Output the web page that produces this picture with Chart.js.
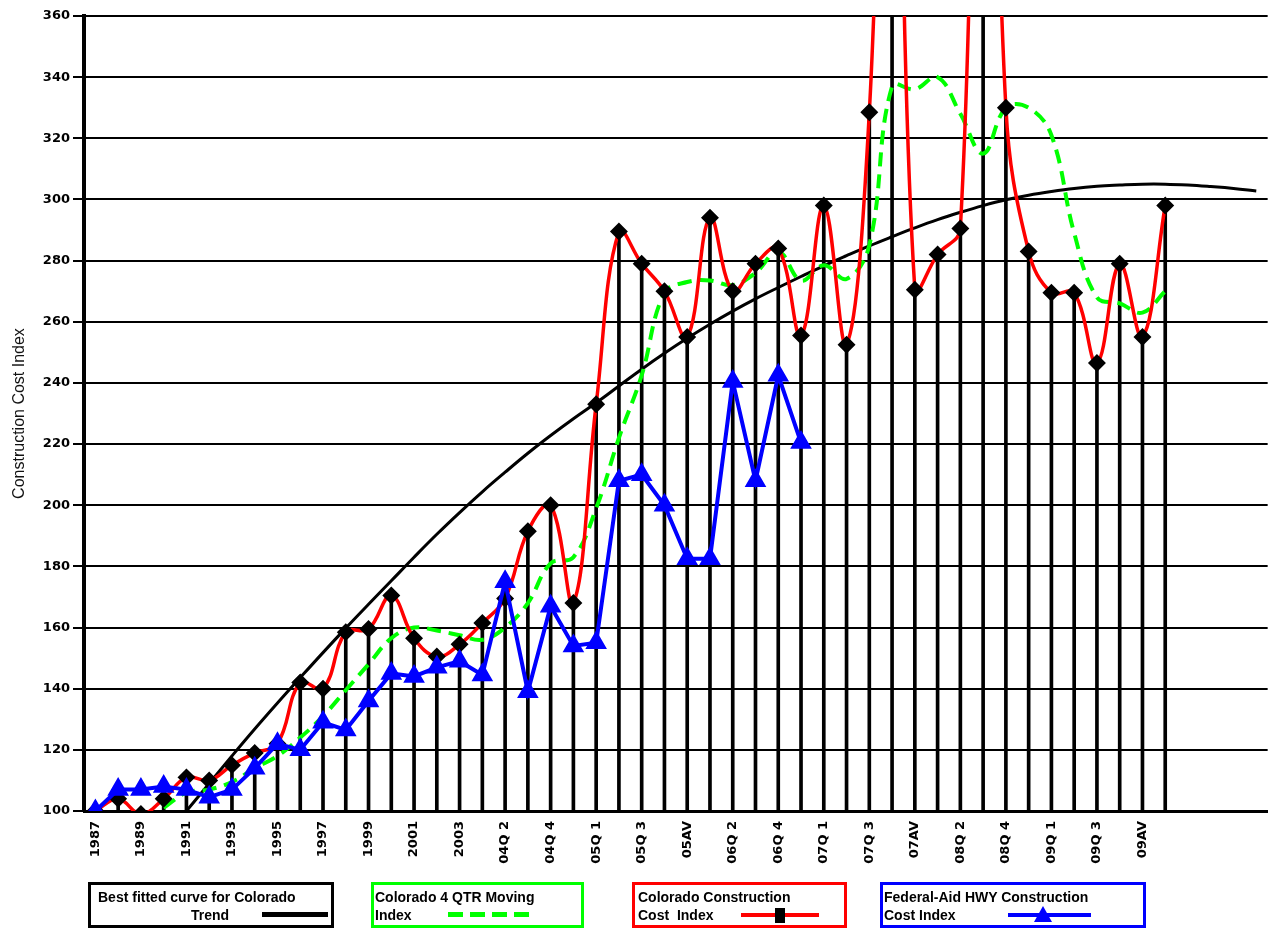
<!DOCTYPE html>
<html>
<head>
<meta charset="utf-8">
<script src="https://cdn.jsdelivr.net/npm/chart.js@4.4.0/dist/chart.umd.min.js"></script>
<style>
  body { margin: 0; background: #fff; }
  #wrap { position: relative; width: 1282px; height: 933px; }
  #chart { position: absolute; left: 0; top: 0; }
  .box { position: absolute; top: 882px; height: 46px; border: 3px solid #000; box-sizing: border-box;
         font: bold 14px "Liberation Sans", Arial, sans-serif; color: #000; }
  .box span { position: absolute; white-space: pre; line-height: 16px; }
  .sample { position: absolute; }
</style>
</head>
<body>
<div id="wrap">
  <canvas id="chart" width="1282" height="933"></canvas>

  <div class="box" style="left:88px;width:246px;border-color:#000;">
    <span style="left:7px;top:4px;">Best fitted curve for Colorado</span>
    <span style="left:100px;top:22px;">Trend</span>
    <div class="sample" style="left:171px;top:27px;width:66px;height:5px;background:#000;"></div>
  </div>
  <div class="box" style="left:371px;width:213px;border-color:#00ff00;">
    <span style="left:1px;top:4px;">Colorado 4 QTR Moving</span>
    <span style="left:1px;top:22px;">Index</span>
    <div class="sample" style="left:74px;top:27px;width:82px;height:5px;
         background:repeating-linear-gradient(90deg,#00ff00 0 15px,transparent 15px 22px);"></div>
  </div>
  <div class="box" style="left:632px;width:215px;border-color:#ff0000;">
    <span style="left:3px;top:4px;">Colorado Construction</span>
    <span style="left:3px;top:22px;">Cost  Index</span>
    <div class="sample" style="left:106px;top:28px;width:78px;height:4px;background:#ff0000;"></div>
    <div class="sample" style="left:140px;top:23px;width:10px;height:15px;background:#000;"></div>
  </div>
  <div class="box" style="left:880px;width:266px;border-color:#0000ff;">
    <span style="left:1px;top:4px;">Federal-Aid HWY Construction</span>
    <span style="left:1px;top:22px;">Cost Index</span>
    <div class="sample" style="left:125px;top:28px;width:83px;height:4px;background:#0000ff;"></div>
    <svg class="sample" style="left:150px;top:20px;" width="20" height="18">
      <polygon points="10,1 19,17 1,17" fill="#0000ff"/>
    </svg>
  </div>
</div>

<script>
const categories = [
  '1987', '1988', '1989', '1990', '1991', '1992', '1993', '1994', '1995', '1996',
  '1997', '1998', '1999', '2000', '2001', '2002', '2003',
  '04Q 1', '04Q 2', '04Q 3', '04Q 4', '04AV',
  '05Q 1', '05Q 2', '05Q 3', '05Q 4', '05AV',
  '06Q 1', '06Q 2', '06Q 3', '06Q 4', '06AV',
  '07Q 1', '07Q 2', '07Q 3', '07Q 4', '07AV',
  '08Q 1', '08Q 2', '08Q 3', '08Q 4', '08AV',
  '09Q 1', '09Q 2', '09Q 3', '09Q 4', '09AV',
  '10Q 1', '', '', '', ''
];

// Colorado Construction Cost Index (the two off-scale peaks are guesses)
const colorado = [
  100, 104, 99, 104, 111, 110, 115, 119, 122, 142,
  140, 158.5, 159.5, 170.5, 156.5, 150.5, 154.5,
  161.5, 169.5, 191.5, 200, 168,
  233, 289.5, 279, 270, 255,
  294, 270, 279, 284, 255.5,
  298, 252.5, 328.5, 520, 270.5,
  282, 290.5, 560, 330, 283,
  269.5, 269.5, 246.5, 279, 255,
  298, null, null, null, null
];

// Federal-Aid HWY Construction Cost Index
const federal = [
  100, 107, 107, 108, 107, 104.5, 107, 114, 122, 120,
  129, 126.5, 136, 145, 144, 147, 149,
  144.5, 175, 139, 167, 154,
  155, 208, 210, 200, 182.5,
  182.5, 240.5, 208, 242.5, 220.5
];

// Colorado 4 QTR Moving Index
const moving = [
  null, null, null, 101, 106, 107, 109.5, 114, 118, 124,
  131, 139.5, 148, 156.5, 160, 159, 157.5,
  156, 160, 168, 181, 183,
  199, 222, 242.5, 269.5, 273,
  273.5, 272, 276, 283, 273.5,
  278.5, 274, 285, 337, 336,
  340, 328, 315, 330, 330,
  321, 289, 268, 266, 263,
  270, null, null, null, null
];

// Best fitted curve for Colorado trend
const trend = [
  null, null, null, null, 100, 109, 118, 126.8, 135.3, 143.6,
  151.8, 159.8, 167.6, 175.3, 183, 190.5, 197.6,
  204.4, 210.8, 217, 222.8, 228.3,
  233.5, 239, 244.5, 249.7, 254.6,
  259.2, 263.5, 267.5, 271.2, 274.8,
  278.3, 281.6, 284.8, 287.8, 290.7,
  293.4, 295.8, 298, 299.9, 301.4,
  302.6, 303.6, 304.3, 304.7, 305,
  305, 304.7, 304.2, 303.6, 302.8
];

const yTicks = [100, 120, 140, 160, 180, 200, 220, 240, 260, 280, 300, 320, 340, 360];

const tickFont = { family: 'DejaVu Sans', weight: 'bold', size: 13 };

new Chart(document.getElementById('chart').getContext('2d'), {
  data: {
    labels: categories,
    datasets: [
      {
        type: 'line',
        label: 'Federal-Aid HWY Construction Cost Index',
        data: federal,
        borderColor: '#0000ff',
        backgroundColor: '#0000ff',
        borderWidth: 4,
        pointStyle: 'triangle',
        pointRadius: 8.5,
        tension: 0,
        order: 1
      },
      {
        type: 'line',
        label: 'Colorado Construction Cost Index',
        data: colorado,
        borderColor: '#ff0000',
        borderWidth: 3.5,
        pointStyle: 'rectRot',
        pointRadius: 6.5,
        pointBackgroundColor: '#000',
        pointBorderColor: '#000',
        tension: 0.4,
        order: 2
      },
      {
        type: 'line',
        label: 'Colorado 4 QTR Moving Index',
        data: moving,
        borderColor: '#00ff00',
        borderWidth: 4,
        borderDash: [14, 8],
        pointRadius: 0,
        tension: 0.4,
        order: 3
      },
      {
        type: 'line',
        label: 'Best fitted curve for Colorado Trend',
        data: trend,
        borderColor: '#000',
        borderWidth: 3,
        pointRadius: 0,
        tension: 0.4,
        order: 4
      },
      {
        type: 'bar',
        label: 'drop',
        data: colorado,
        backgroundColor: '#000',
        barThickness: 3,
        order: 5
      }
    ]
  },
  options: {
    responsive: false,
    animation: false,
    devicePixelRatio: 1,
    layout: { padding: { top: 16, right: 13, left: 0, bottom: 0 } },
    plugins: { legend: { display: false }, tooltip: { enabled: false } },
    scales: {
      x: {
        offset: true,
        grid: { display: false, drawTicks: false },
        border: { display: true, color: '#000', width: 3 },
        ticks: {
          autoSkip: false,
          minRotation: 90,
          maxRotation: 90,
          padding: 10,
          color: '#000',
          font: tickFont,
          callback: function(v, i) { return i % 2 === 0 ? categories[i] : ''; }
        },
        afterFit: function(s) { s.height = 122; }
      },
      y: {
        min: 100,
        max: 360,
        afterBuildTicks: function(s) { s.ticks = yTicks.map(v => ({ value: v })); },
        grid: { color: '#000', lineWidth: 2, tickLength: 11 },
        border: { display: true, color: '#000', width: 4 },
        ticks: { padding: 3, color: '#000', font: tickFont },
        title: {
          display: true,
          text: 'Construction Cost Index',
          color: '#111',
          font: { family: 'Liberation Sans', size: 16 },
          padding: { top: 10, bottom: 0 }
        },
        afterFit: function(s) { s.width = 84; }
      }
    }
  }
});
</script>
</body>
</html>
